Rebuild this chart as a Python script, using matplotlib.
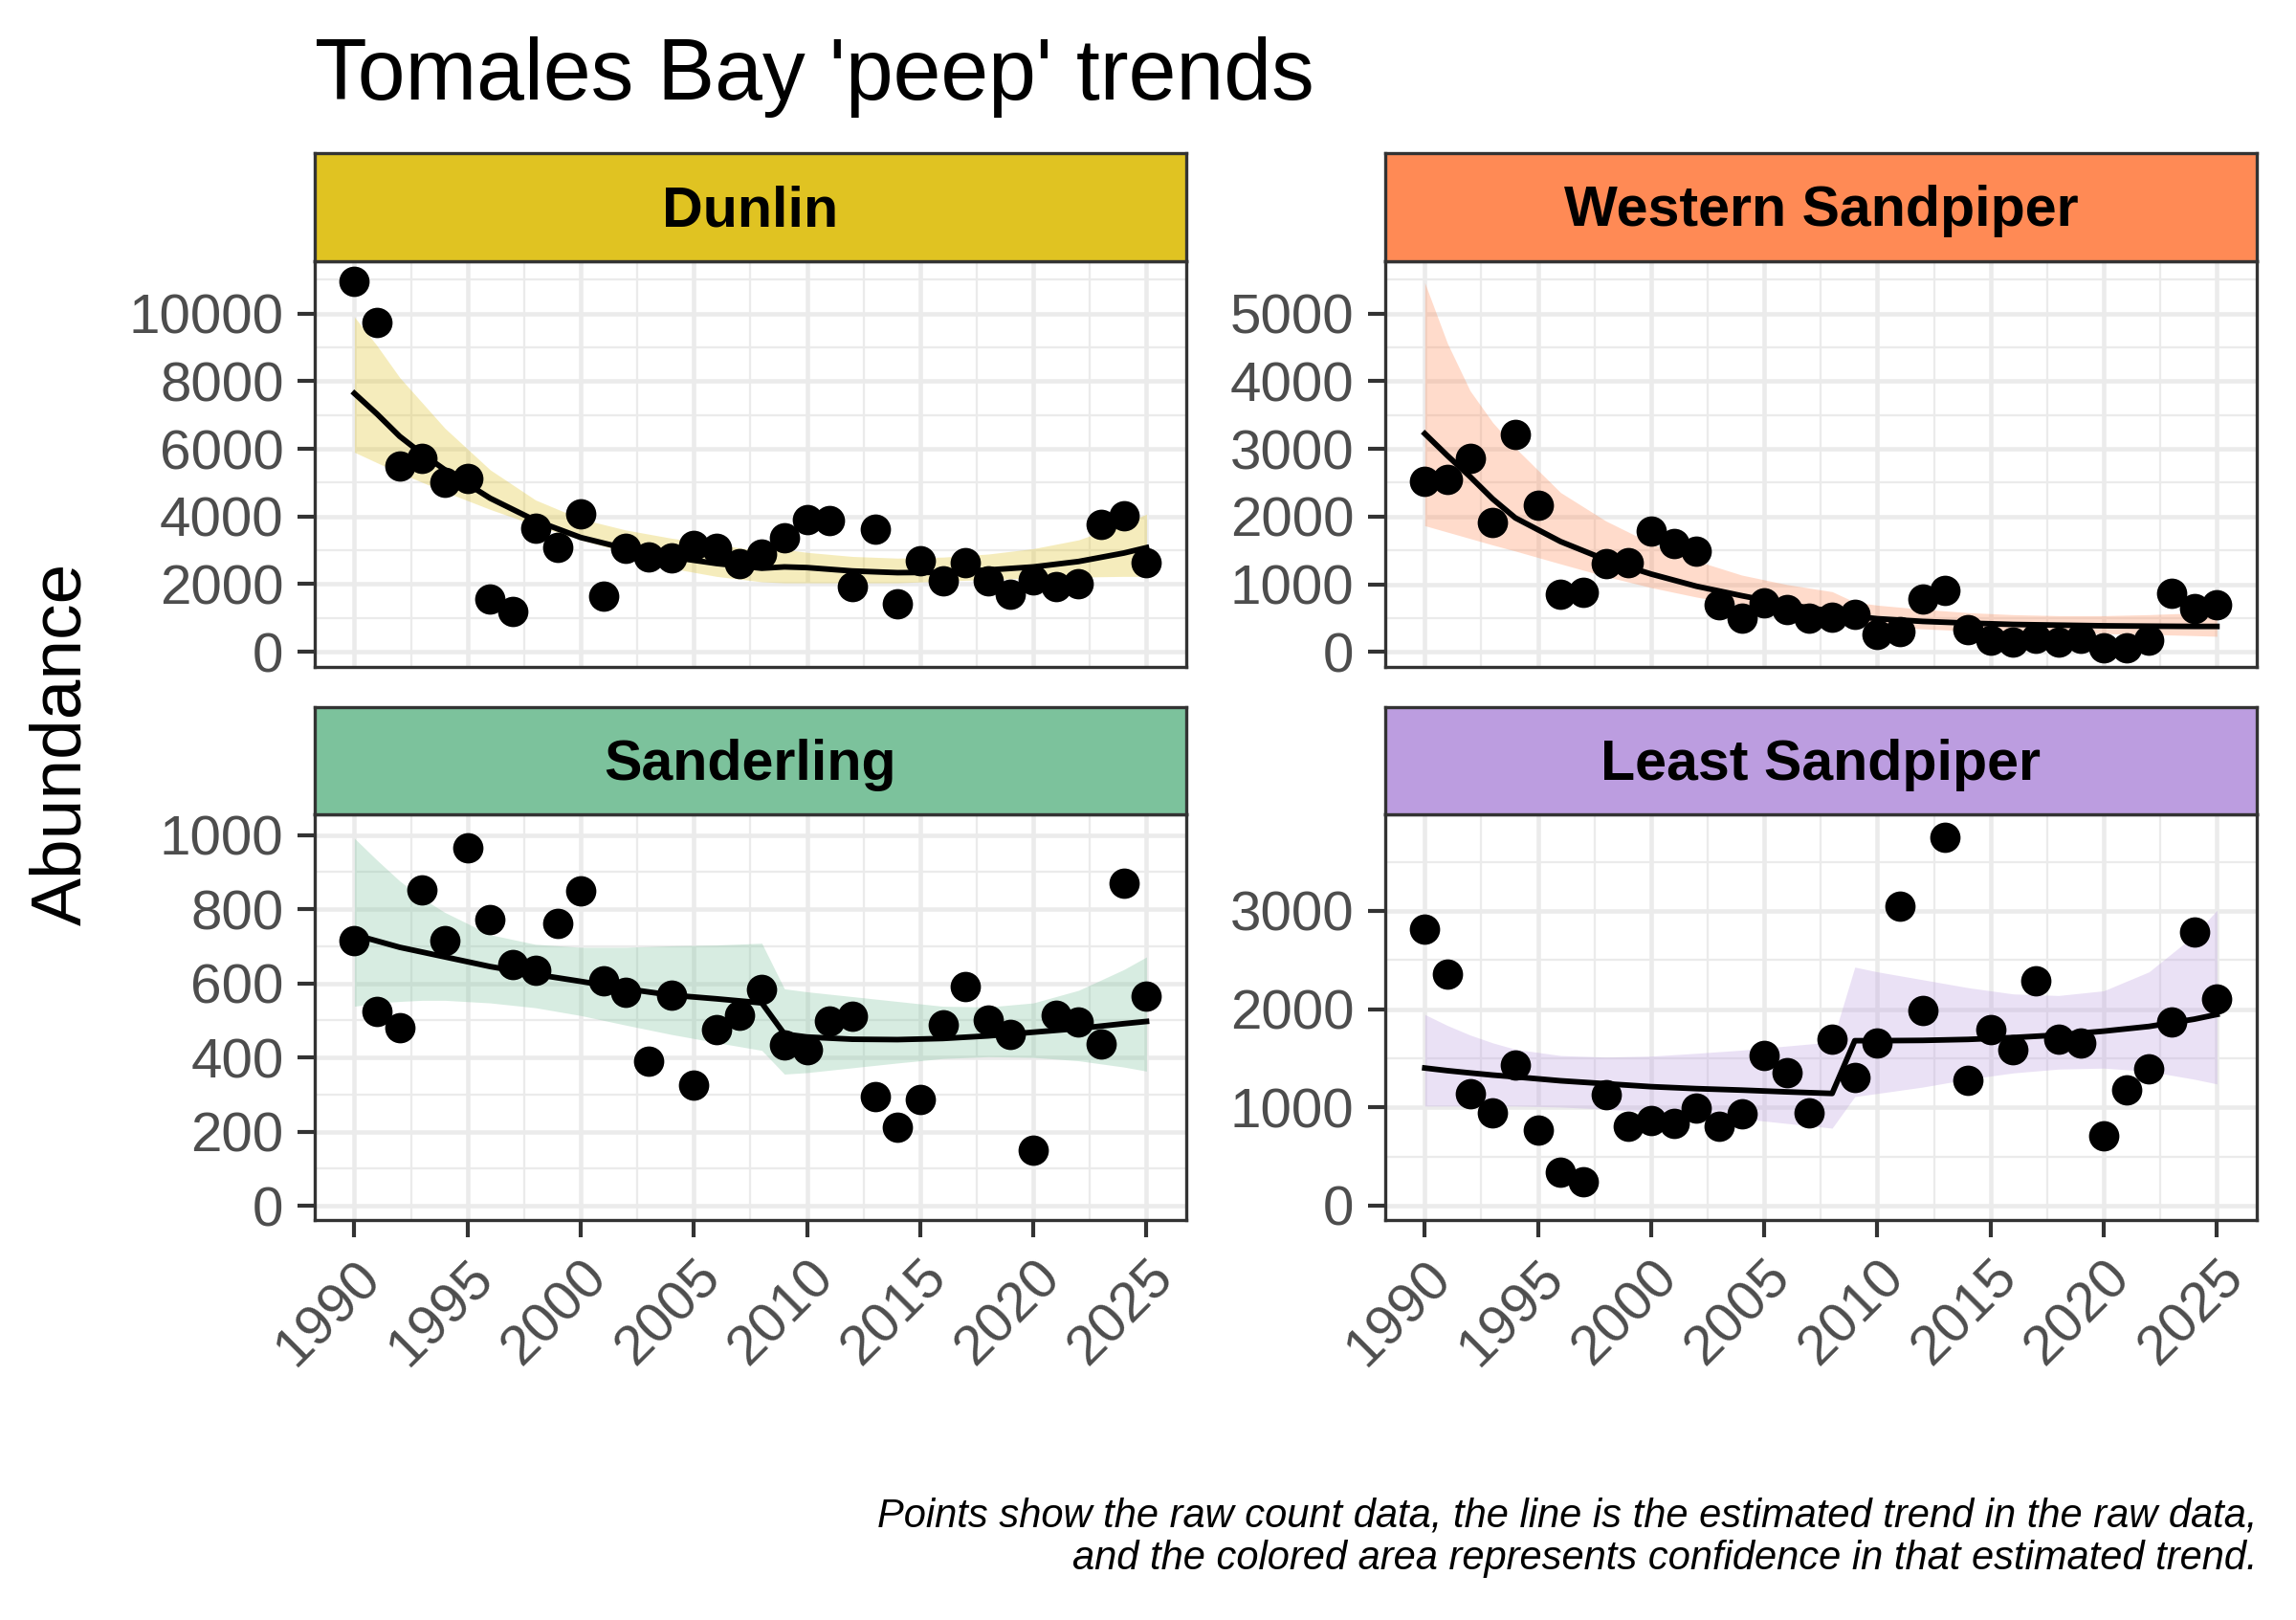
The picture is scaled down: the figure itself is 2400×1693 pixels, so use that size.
import matplotlib.pyplot as plt
from matplotlib.ticker import MultipleLocator, StrMethodFormatter

plt.rcParams['font.family'] = ['Liberation Sans', 'DejaVu Sans']

# raw counts, one per year
years = list(range(1990, 2026))
dunlin = [10950, 9740, 5480, 5710, 5010, 5120, 1570, 1200, 3660, 3100,
          4090, 1650, 3060, 2810, 2780, 3140, 3060, 2610, 2890, 3360,
          3900, 3880, 1930, 3620, 1430, 2680, 2090, 2630, 2090, 1690,
          2140, 1920, 2000, 3760, 4020, 2640]
western = [2520, 2545, 2865, 1910, 3210, 2160, 845, 880, 1310, 1325,
           1780, 1605, 1490, 690, 500, 725, 620, 500, 515, 550,
           260, 305, 785, 915, 325, 175, 150, 195, 150, 195,
           66, 66, 175, 865, 645, 700]
sanderling = [716, 523, 479, 853, 716, 966, 773, 650, 634, 762,
              849, 607, 575, 389, 567, 326, 476, 513, 583, 434,
              421, 498, 511, 295, 212, 286, 487, 591, 500, 462,
              151, 513, 496, 436, 869, 566]
least = [2813, 2357, 1141, 948, 1431, 765, 344, 241, 1132, 804,
         868, 836, 997, 804, 932, 1527, 1350, 942, 1698, 1302,
         1656, 3048, 1984, 3746, 1270, 1794, 1591, 2283, 1698, 1656,
         707, 1180, 1389, 1865, 2781, 2099]

# estimated trend and confidence band, read at these years
fit_years = [1990, 1991, 1992, 1993, 1994, 1996, 1998, 2000, 2002, 2004,
             2006, 2008, 2009, 2010, 2012, 2014, 2016, 2018, 2020, 2022,
             2024, 2025]
dunlin_fit = [7640, 7030, 6370, 5850, 5380, 4540, 3880, 3380, 3050, 2800,
              2610, 2470, 2510, 2490, 2390, 2340, 2350, 2420, 2510, 2670,
              2920, 3080]
dunlin_lo = [5900, 5590, 5290, 5010, 4730, 4210, 3740, 3310, 2940, 2470,
             2230, 2070, 2040, 2040, 2040, 2040, 2090, 2140, 2180, 2210,
             2230, 2230]
dunlin_hi = [9900, 9050, 8110, 7360, 6610, 5380, 4490, 3930, 3600, 3360,
             3170, 2980, 3030, 2940, 2820, 2770, 2800, 2890, 3050, 3310,
             3780, 4070]
western_fit = [3225, 2900, 2590, 2260, 1980, 1630, 1360, 1150, 970, 830,
               700, 600, 525, 490, 450, 425, 405, 395, 385, 380,
               376, 376]
western_lo = [1865, 1770, 1675, 1580, 1490, 1300, 1115, 950, 810, 690,
              580, 500, 410, 375, 340, 310, 290, 278, 268, 258,
              240, 230]
western_hi = [5455, 4560, 3860, 3390, 3015, 2355, 1935, 1605, 1345, 1135,
              995, 890, 735, 690, 630, 580, 550, 535, 535, 550,
              575, 595]
sanderling_fit = [731, 714, 697, 684, 671, 645, 624, 605, 585, 568,
                  558, 547, 463, 455, 449, 448, 451, 458, 468, 478,
                  491, 497]
sanderling_lo = [538, 547, 551, 554, 554, 547, 534, 513, 487, 462,
                 440, 419, 355, 359, 372, 385, 397, 402, 400, 391,
                 374, 363]
sanderling_hi = [991, 932, 876, 829, 791, 731, 705, 697, 697, 701,
                 703, 708, 585, 577, 564, 551, 538, 536, 547, 581,
                 637, 671]
least_fit = [1400, 1373, 1350, 1328, 1310, 1270, 1240, 1210, 1190, 1175,
             1157, 1141, 1678, 1678, 1681, 1691, 1710, 1736, 1775, 1823,
             1897, 1945]
least_lo = [1013, 1013, 1013, 1013, 1013, 1003, 981, 948, 916, 884,
            836, 788, 1109, 1141, 1206, 1286, 1350, 1389, 1399, 1366,
            1286, 1238]
least_hi = [1945, 1833, 1736, 1656, 1591, 1527, 1511, 1521, 1550, 1582,
            1624, 1665, 2427, 2379, 2299, 2218, 2154, 2138, 2186, 2379,
            2750, 3006]

species = ["Dunlin", "Western Sandpiper", "Sanderling", "Least Sandpiper"]
colors = ["#E0C322", "#FF8A55", "#7CC29C", "#BC9DE0"]
counts = [dunlin, western, sanderling, least]
fits = [dunlin_fit, western_fit, sanderling_fit, least_fit]
lows = [dunlin_lo, western_lo, sanderling_lo, least_lo]
highs = [dunlin_hi, western_hi, sanderling_hi, least_hi]
ylims = [(-433, 11558), (-216, 5779), (-39, 1055), (-149, 3980)]
ysteps = [2000, 1000, 200, 1000]

fig = plt.figure(figsize=(8, 1693 / 300), dpi=300)

# panel layout in figure fractions (left, plot bottom, width, plot height, strip height)
lefts = [0.1371, 0.6033, 0.1371, 0.6033]
bottoms = [0.5886, 0.5886, 0.2468, 0.2468]
width = 0.3795
height = 0.2504
strip_h = 0.0665

for i in range(4):
    ax = fig.add_axes([lefts[i], bottoms[i], width, height])
    ax.fill_between(fit_years, lows[i], highs[i], color=colors[i], alpha=0.3, lw=0)
    ax.plot(fit_years, fits[i], color="black", lw=1.4, zorder=3)
    ax.scatter(years, counts[i], s=58, color="black", zorder=4, lw=0)

    ax.set_xlim(1988.25, 2026.75)
    ax.set_ylim(*ylims[i])
    ax.xaxis.set_major_locator(MultipleLocator(5))
    ax.xaxis.set_minor_locator(MultipleLocator(2.5))
    ax.yaxis.set_major_locator(MultipleLocator(ysteps[i]))
    ax.yaxis.set_minor_locator(MultipleLocator(ysteps[i] / 2))
    ax.yaxis.set_major_formatter(StrMethodFormatter("{x:.0f}"))
    ax.set_axisbelow(True)
    ax.grid(which="major", color="#EBEBEB", lw=1.1)
    ax.grid(which="minor", color="#EBEBEB", lw=0.55)
    ax.tick_params(which="minor", length=0)
    ax.tick_params(which="major", length=4.3, width=1.0, color="#333333",
                   labelcolor="#4D4D4D", labelsize=14, pad=3.5)
    for s in ax.spines.values():
        s.set_color("#333333")
        s.set_linewidth(0.8)
    if i < 2:
        ax.tick_params(axis="x", which="both", bottom=False, labelbottom=False)
    else:
        for lab in ax.get_xticklabels():
            lab.set_rotation(45)
            lab.set_ha("right")
            lab.set_va("top")
            lab.set_rotation_mode("anchor")

    sax = fig.add_axes([lefts[i], bottoms[i] + height, width, strip_h])
    sax.set_facecolor(colors[i])
    sax.set_xticks([])
    sax.set_yticks([])
    for s in sax.spines.values():
        s.set_color("#333333")
        s.set_linewidth(0.8)
    sax.text(0.5, 0.46, species[i], ha="center", va="center", fontsize=14.2,
             fontweight="bold", color="black", transform=sax.transAxes)

fig.text(0.1371, 0.9385, "Tomales Bay 'peep' trends", fontsize=21.5, ha="left",
         va="baseline")
fig.text(0.027, 0.541, "Abundance", fontsize=18, rotation=90, ha="center",
         va="center")
fig.text(0.983, 0.026,
         "Points show the raw count data, the line is the estimated trend in the raw data,\n"
         "and the colored area represents confidence in that estimated trend.",
         fontsize=10, style="italic", ha="right", va="bottom", linespacing=1.15)

fig.savefig("out.png", dpi=300, facecolor="white")
